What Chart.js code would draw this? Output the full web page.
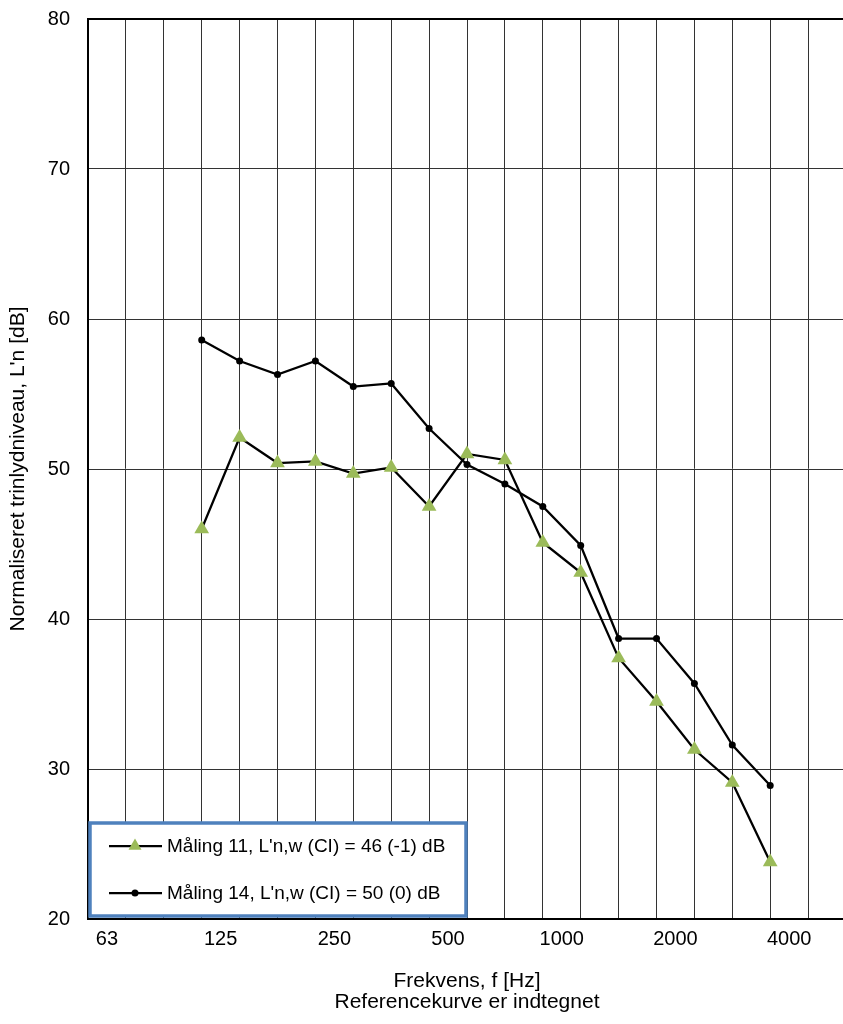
<!DOCTYPE html>
<html>
<head>
<meta charset="utf-8">
<script src="https://cdn.jsdelivr.net/npm/chart.js@4"></script>
<style>
html, body { margin: 0; padding: 0; overflow: hidden; background: #fff; }
</style>
</head>
<body>
<canvas id="myChart" width="846" height="1024"></canvas>
<script>
// tertsbånd, ét pr. lodret gitterlinje
var bands = ['50', '63', '80', '100', '125', '160', '200', '250', '315', '400', '500',
             '630', '800', '1000', '1250', '1600', '2000', '2500', '3150', '4000', '5000'];
var tickLabels = ['63', '125', '250', '500', '1000', '2000', '4000'];
var measuredBands = ['100', '125', '160', '200', '250', '315', '400', '500',
                     '630', '800', '1000', '1250', '1600', '2000', '2500', '3150'];
var maaling11 = [46.0, 52.1, 50.4, 50.5, 49.7, 50.1, 47.5, 51.0, 50.6, 45.1, 43.1, 37.4, 34.5, 31.3, 29.1, 23.8];
var maaling14 = [58.6, 57.2, 56.3, 57.2, 55.5, 55.7, 52.7, 50.3, 49.0, 47.5, 44.9, 38.7, 38.7, 35.7, 31.6, 28.9];
var seriesLabels = ['Måling 11, L\'n,w (CI) = 46 (-1) dB', 'Måling 14, L\'n,w (CI) = 50 (0) dB'];

function toPoints(values) {
    return measuredBands.map(function(b, i) {
        return { x: bands.indexOf(b), y: values[i] };
    });
}

Chart.defaults.font.family = '"Liberation Sans", Arial, sans-serif';
Chart.defaults.color = '#000';

// legende i boks nederst til venstre inde i plottet
var boxLegend = {
    id: 'boxLegend',
    afterDraw: function(chart) {
        var ctx = chart.ctx, area = chart.chartArea;
        var x0 = area.left + 2, y0 = area.bottom - 96, w = 376, h = 93;
        ctx.save();
        ctx.fillStyle = '#fff';
        ctx.fillRect(x0, y0, w, h);
        ctx.strokeStyle = '#4f81bd';
        ctx.lineWidth = 3.5;
        ctx.strokeRect(x0, y0, w, h);

        chart.data.datasets.forEach(function(ds, i) {
            var cy = y0 + 23 + i * 47;
            ctx.strokeStyle = '#000';
            ctx.lineWidth = 2.25;
            ctx.beginPath();
            ctx.moveTo(x0 + 19, cy);
            ctx.lineTo(x0 + 72, cy);
            ctx.stroke();
            var cx = x0 + 45;
            ctx.fillStyle = ds.pointBackgroundColor;
            ctx.beginPath();
            if (ds.pointStyle === 'triangle') {
                var r = 7.5;
                ctx.moveTo(cx, cy - r);
                ctx.lineTo(cx + r * 0.866, cy + r / 2);
                ctx.lineTo(cx - r * 0.866, cy + r / 2);
                ctx.closePath();
            } else {
                ctx.arc(cx, cy, 3.5, 0, Math.PI * 2);
            }
            ctx.fill();
            ctx.fillStyle = '#000';
            ctx.font = '19px "Liberation Sans", Arial, sans-serif';
            ctx.textBaseline = 'middle';
            ctx.textAlign = 'left';
            ctx.fillText(ds.label, x0 + 77, cy + 1);
        });
        ctx.restore();
    }
};

var ctx = document.getElementById('myChart').getContext('2d');
var myChart = new Chart(ctx, {
    type: 'line',
    data: {
        datasets: [{
            label: seriesLabels[0],
            data: toPoints(maaling11),
            borderColor: '#000',
            borderWidth: 2.25,
            pointStyle: 'triangle',
            pointRadius: 8.5,
            pointBackgroundColor: '#9bbb59',
            pointBorderColor: '#9bbb59',
            pointBorderWidth: 0,
            order: 1
        }, {
            label: seriesLabels[1],
            data: toPoints(maaling14),
            borderColor: '#000',
            borderWidth: 2.25,
            pointStyle: 'circle',
            pointRadius: 3.5,
            pointBackgroundColor: '#000',
            pointBorderColor: '#000',
            pointBorderWidth: 0,
            order: 0
        }]
    },
    options: {
        responsive: false,
        animation: false,
        layout: { autoPadding: false, padding: { top: 19, right: 0, bottom: 0, left: 0 } },
        plugins: {
            legend: { display: false },
            tooltip: { enabled: false }
        },
        scales: {
            x: {
                type: 'linear',
                min: 0,
                max: bands.length - 1,
                afterBuildTicks: function(scale) {
                    var t = bands.map(function(b, i) { return { value: i }; });
                    tickLabels.forEach(function(l) {
                        t.push({ value: bands.indexOf(l) - 0.5 });
                    });
                    t.sort(function(a, b) { return a.value - b.value; });
                    scale.ticks = t;
                },
                afterFit: function(scale) {
                    scale.height = 105;
                    scale.paddingLeft = 0;
                    scale.paddingRight = 0;
                },
                ticks: {
                    autoSkip: false,
                    maxRotation: 0,
                    padding: 8,
                    font: { size: 20 },
                    callback: function(value) {
                        if (Number.isInteger(value)) return '';
                        return bands[value + 0.5];
                    }
                },
                grid: {
                    drawTicks: false,
                    color: function(c) {
                        return Number.isInteger(c.tick.value) ? '#333' : 'rgba(0,0,0,0)';
                    },
                    lineWidth: 1
                },
                border: { color: '#000', width: 2 },
                title: {
                    display: true,
                    text: ['Frekvens, f [Hz]', 'Referencekurve er indtegnet'],
                    font: { size: 21, lineHeight: 1.0 },
                    padding: { top: 0, bottom: 11 }
                }
            },
            y: {
                min: 20,
                max: 80,
                afterFit: function(scale) {
                    scale.width = 88;
                    scale.paddingTop = 0;
                    scale.paddingBottom = 0;
                },
                ticks: {
                    stepSize: 10,
                    padding: 18,
                    font: { size: 20 }
                },
                grid: {
                    drawTicks: false,
                    color: function(c) { return c.tick.value === 80 ? '#000' : '#333'; },
                    lineWidth: function(c) { return c.tick.value === 80 ? 2 : 1; }
                },
                border: { color: '#000', width: 2 },
                title: {
                    display: true,
                    text: 'Normaliseret trinlydniveau, L\'n [dB]',
                    font: { size: 21 },
                    padding: { top: 6, bottom: 0 }
                }
            }
        }
    },
    plugins: [boxLegend]
});
</script>
</body>
</html>
